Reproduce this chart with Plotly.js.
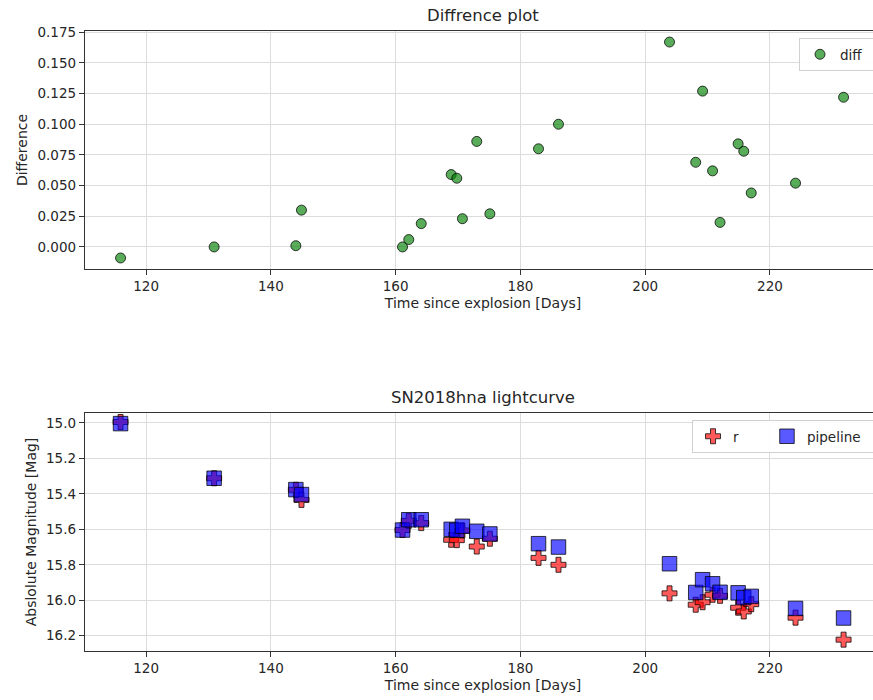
<!DOCTYPE html>
<html>
<head>
<meta charset="utf-8">
<script src="https://cdn.plot.ly/plotly-3.0.1.min.js"></script>
<style>
html, body { margin: 0; padding: 0; overflow: hidden; background: #fff; }
#chart { width: 882px; height: 700px; }
</style>
</head>
<body>
<div id="chart"></div>
<script>
// Time since explosion [Days]
const days = [115.9, 130.9, 144.0, 144.9, 161.1, 162.1, 164.1, 168.9, 169.8, 170.7, 173.0, 175.1,
              182.9, 186.1, 203.9, 208.1, 209.2, 210.8, 212.0, 214.9, 215.8, 217.0, 224.1, 231.8];
// Difference (r - pipeline)
const diffVals = [-0.009, 0.000, 0.001, 0.030, -0.000, 0.006, 0.019, 0.059, 0.056, 0.023, 0.086, 0.027,
                  0.080, 0.100, 0.167, 0.069, 0.127, 0.062, 0.020, 0.084, 0.078, 0.044, 0.052, 0.122];
// r band magnitudes
const rMag = [14.995, 15.312, 15.377, 15.434, 15.604, 15.552, 15.565, 15.659, 15.661, 15.606, 15.697, 15.653,
              15.761, 15.800, 15.961, 16.025, 16.011, 15.969, 15.975, 16.042, 16.063, 16.022, 16.098, 16.222];
// pipeline magnitudes
const pipeMag = [15.004, 15.312, 15.376, 15.404, 15.604, 15.546, 15.546, 15.600, 15.605, 15.583, 15.611, 15.626,
                 15.681, 15.700, 15.794, 15.956, 15.884, 15.907, 15.955, 15.958, 15.985, 15.978, 16.046, 16.100];

const xTicks = [120, 140, 160, 180, 200, 220];
const diffTicks = [0, 0.025, 0.05, 0.075, 0.1, 0.125, 0.15, 0.175];
const magTicks = [15.0, 15.2, 15.4, 15.6, 15.8, 16.0, 16.2];

const FONT = 'DejaVu Sans, sans-serif';
const TXT = '#262626';

const traces = [
  {
    x: days, y: diffVals, type: 'scatter', mode: 'markers', name: 'diff',
    xaxis: 'x', yaxis: 'y', legend: 'legend', showlegend: true,
    marker: { symbol: 'circle', size: 10, color: 'rgba(0,128,0,0.65)',
              line: { color: 'rgba(0,0,0,0.75)', width: 1 } }
  },
  {
    x: days, y: rMag, type: 'scatter', mode: 'markers', name: 'r',
    xaxis: 'x2', yaxis: 'y2', legend: 'legend2', showlegend: true,
    marker: { symbol: 'cross', size: 12.5, color: 'rgba(255,0,0,0.65)',
              line: { color: 'rgba(0,0,0,0.75)', width: 1 } }
  },
  {
    x: days, y: pipeMag, type: 'scatter', mode: 'markers', name: 'pipeline',
    xaxis: 'x2', yaxis: 'y2', legend: 'legend3', showlegend: true,
    marker: { symbol: 'square', size: 14.5, color: 'rgba(0,0,255,0.65)',
              line: { color: 'rgba(0,0,0,0.75)', width: 1 } }
  }
];

const axisCommon = {
  showline: true, mirror: true, linecolor: '#333', linewidth: 1.2,
  ticks: 'outside', ticklen: 5, tickwidth: 1, tickcolor: '#333',
  showgrid: true, gridcolor: '#dcdcdc', gridwidth: 1, zeroline: false,
  automargin: false,
  tickfont: { family: FONT, size: 13.5, color: TXT }
};

const xRange = [110.2, 237.8];
const legendFont = { family: FONT, size: 13.5, color: TXT };

const layout = {
  width: 882, height: 700,
  showlegend: true,
  margin: { l: 85, r: 1, t: 31, b: 49, autoexpand: false },
  paper_bgcolor: '#fff', plot_bgcolor: '#fff',
  font: { family: FONT, color: TXT },
  xaxis: Object.assign({}, axisCommon, {
    domain: [0, 1], anchor: 'y', range: xRange,
    tickmode: 'array', tickvals: xTicks,
    title: { text: 'Time since explosion [Days]', font: { family: FONT, size: 14, color: TXT }, standoff: 4 }
  }),
  yaxis: Object.assign({}, axisCommon, {
    domain: [0.6161, 1], anchor: 'x', range: [-0.018, 0.176],
    tickmode: 'array', tickvals: diffTicks, tickformat: '.3f',
    title: { text: 'Difference', font: { family: FONT, size: 14, color: TXT }, standoff: 6 }
  }),
  xaxis2: Object.assign({}, axisCommon, {
    domain: [0, 1], anchor: 'y2', range: xRange,
    tickmode: 'array', tickvals: xTicks,
    title: { text: 'Time since explosion [Days]', font: { family: FONT, size: 14, color: TXT }, standoff: 4 }
  }),
  yaxis2: Object.assign({}, axisCommon, {
    domain: [0, 0.3839], anchor: 'x2', range: [16.286, 14.944],
    tickmode: 'array', tickvals: magTicks, tickformat: '.1f',
    title: { text: 'Abslolute Magnitude [Mag]', font: { family: FONT, size: 14, color: TXT }, standoff: 6 }
  }),
  legend: {
    visible: true,
    orientation: 'h', x: 0.897, y: 0.9887, xanchor: 'left', yanchor: 'top',
    entrywidth: 40, entrywidthmode: 'pixels',
    bgcolor: 'rgba(255,255,255,0.9)', bordercolor: '#d0d0d0', borderwidth: 1,
    font: legendFont
  },
  legend2: {
    visible: true,
    orientation: 'h', x: 0.7626, y: 0.3726, xanchor: 'left', yanchor: 'top',
    entrywidth: 140, entrywidthmode: 'pixels',
    bgcolor: 'rgba(255,255,255,0.9)', bordercolor: '#d0d0d0', borderwidth: 1,
    font: legendFont
  },
  legend3: {
    visible: true,
    orientation: 'h', x: 0.8555, y: 0.3726, xanchor: 'left', yanchor: 'top',
    bgcolor: 'rgba(0,0,0,0)', bordercolor: 'rgba(0,0,0,0)', borderwidth: 1,
    font: legendFont
  },
  annotations: [
    { text: 'Diffrence plot', xref: 'paper', yref: 'paper', x: 0.5, y: 1,
      xanchor: 'center', yanchor: 'bottom', yshift: 4, showarrow: false,
      font: { family: FONT, size: 16.5, color: TXT } },
    { text: 'SN2018hna lightcurve', xref: 'paper', yref: 'paper', x: 0.5, y: 0.3839,
      xanchor: 'center', yanchor: 'bottom', yshift: 4, showarrow: false,
      font: { family: FONT, size: 16.5, color: TXT } }
  ]
};

Plotly.newPlot('chart', traces, layout, { displayModeBar: false, staticPlot: true });
</script>
</body>
</html>
